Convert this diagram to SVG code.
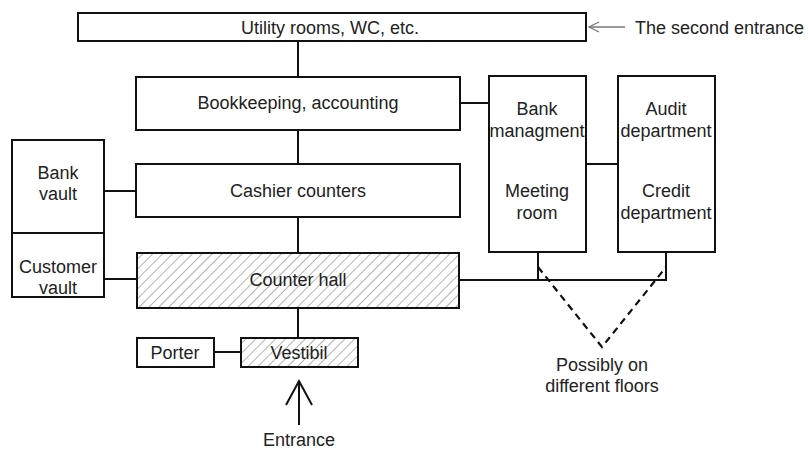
<svg xmlns="http://www.w3.org/2000/svg" width="808" height="450" viewBox="0 0 808 450">
<defs>
<pattern id="hatch" patternUnits="userSpaceOnUse" width="7" height="7" patternTransform="rotate(45)">
<line x1="0" y1="0" x2="0" y2="7" stroke="#555" stroke-width="0.9"/>
</pattern>
</defs>
<style>
.box{fill:#fff;stroke:#111;stroke-width:2}
.hb{fill:url(#hatch);stroke:#111;stroke-width:2}
.ln{stroke:#111;stroke-width:2;fill:none}
.gr{stroke:#777;stroke-width:1.3;fill:none}
.dash{stroke:#111;stroke-width:2.2;fill:none;stroke-dasharray:7,5}
text{font-family:"Liberation Sans",Arial,sans-serif;font-size:18px;fill:#222;text-anchor:middle}
</style>
<rect width="808" height="450" fill="#fff"/>
<g id="connectors">
<line class="ln" x1="298" y1="41" x2="298" y2="77"/>
<line class="ln" x1="298" y1="130" x2="298" y2="164"/>
<line class="ln" x1="298" y1="217" x2="298" y2="253"/>
<line class="ln" x1="298" y1="308" x2="298" y2="338"/>
<line class="ln" x1="460" y1="103" x2="489" y2="103"/>
<line class="ln" x1="586" y1="164" x2="618" y2="164"/>
<line class="ln" x1="104" y1="191" x2="136" y2="191"/>
<line class="ln" x1="104" y1="279" x2="137" y2="279"/>
<line class="ln" x1="214" y1="352" x2="241" y2="352"/>
<polyline class="ln" points="459,280 666,280 666,252"/>
<line class="ln" x1="538" y1="252" x2="538" y2="280"/>
<polyline class="dash" points="538,267 602,347 666,267"/>
<line class="gr" x1="625" y1="27" x2="589" y2="27"/>
<polyline class="gr" points="599,22 589,27 599,32"/>
<line class="ln" x1="299" y1="425" x2="299" y2="381"/>
<polyline class="ln" points="286,405 299,381 312,405"/>
</g>
<g id="utility"><rect class="box" x="78" y="13" width="508" height="28"/><text x="330" y="34">Utility rooms, WC, etc.</text></g>
<g id="second-entrance"><text x="635" y="34" style="text-anchor:start">The second entrance</text></g>
<g id="bookkeeping"><rect class="box" x="136" y="77" width="324" height="53"/><text x="298" y="109">Bookkeeping, accounting</text></g>
<g id="bank-management"><rect class="box" x="489" y="76" width="97" height="176"/><text x="537" y="115">Bank</text><text x="537" y="137">managment</text><text x="537" y="197">Meeting</text><text x="537" y="219">room</text></g>
<g id="audit"><rect class="box" x="618" y="76" width="97" height="176"/><text x="666" y="115">Audit</text><text x="666" y="137">department</text><text x="666" y="197">Credit</text><text x="666" y="219">department</text></g>
<g id="bank-vault"><rect class="box" x="12" y="140" width="92" height="93"/><text x="58" y="179">Bank</text><text x="58" y="200">vault</text></g>
<g id="customer-vault"><rect class="box" x="12" y="233" width="92" height="64"/><text x="58" y="273">Customer</text><text x="58" y="294">vault</text></g>
<g id="cashier"><rect class="box" x="136" y="164" width="324" height="53"/><text x="298" y="197">Cashier counters</text></g>
<g id="counter-hall"><rect class="hb" x="137" y="253" width="322" height="55"/><text x="298" y="286">Counter hall</text></g>
<g id="porter"><rect class="box" x="137" y="338" width="77" height="29"/><text x="175" y="359">Porter</text></g>
<g id="vestibil"><rect class="hb" x="241" y="338" width="117" height="29"/><text x="299" y="359">Vestibil</text></g>
<g id="possibly"><text x="602" y="371">Possibly on</text><text x="602" y="392">different floors</text></g>
<g id="entrance"><text x="299" y="446">Entrance</text></g>
</svg>
